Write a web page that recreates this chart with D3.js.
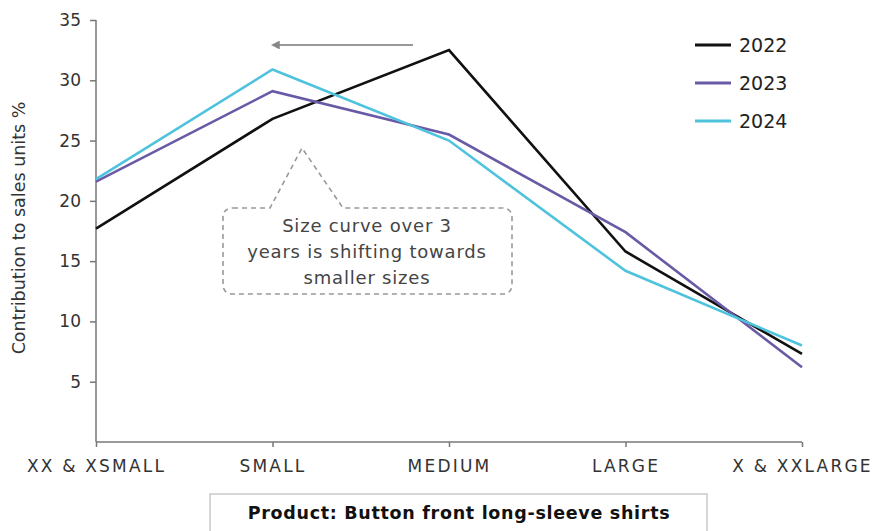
<!DOCTYPE html>
<html><head><meta charset="utf-8">
<script src="https://cdn.jsdelivr.net/npm/d3@7"></script>
<style>body{margin:0;background:#fff;font-family:"DejaVu Sans",sans-serif;}</style>
</head><body>
<svg id="c" width="874" height="531"></svg>
<script>
const categories = ["XX & XSMALL","SMALL","MEDIUM","LARGE","X & XXLARGE"];
const years = ["2022","2023","2024"];
const v2022 = [17.7, 26.8, 32.5, 15.8, 7.3];
const v2023 = [21.6, 29.1, 25.5, 17.4, 6.2];
const v2024 = [21.8, 30.9, 25.0, 14.2, 8.0];
const yTicks = [5,10,15,20,25,30,35];
const colors = ["#111111","#6a5aa6","#4fc3dd"];
const series = [v2022, v2023, v2024];
const FONT = "'DejaVu Sans',sans-serif";

const svg = d3.select("#c").style("font-family",FONT);
const x = d3.scalePoint().domain(categories).range([96, 802]);
const y = d3.scaleLinear().domain([0,35]).range([442, 20]);

// y axis
const ya = svg.append("g").attr("transform","translate(96,0)")
  .call(d3.axisLeft(y).tickValues(yTicks).tickSize(6).tickPadding(9));
ya.select(".domain").attr("d","M0,20V442");
ya.selectAll(".tick text").style("font-size","17px");
// x axis
const xa = svg.append("g").attr("transform","translate(0,442)")
  .call(d3.axisBottom(x).tickSize(5).tickPadding(13));
xa.select(".domain").attr("d","M96,0H802");
xa.selectAll(".tick text").style("font-size","17px").style("letter-spacing","2.2px");
svg.selectAll(".tick text").attr("fill","#333").style("font-family",FONT);
svg.selectAll(".domain,.tick line").attr("stroke","#777").attr("stroke-width",1.5);

// y label
svg.append("text").attr("transform","translate(25,228) rotate(-90)")
  .attr("text-anchor","middle").attr("fill","#333").style("font-size","17.5px")
  .text("Contribution to sales units %");

// lines
const line = d3.line().x((d,i)=>x(categories[i])).y(d=>y(d));
series.forEach((s,k)=>{
  svg.append("path").datum(s).attr("d",line).attr("fill","none")
    .attr("stroke",colors[k]).attr("stroke-width",2.6).attr("stroke-linejoin","miter");
});

// legend
years.forEach((yr,k)=>{
  const ly = 45 + k*38;
  svg.append("line").attr("x1",695).attr("x2",731).attr("y1",ly).attr("y2",ly)
    .attr("stroke",colors[k]).attr("stroke-width",3);
  svg.append("text").attr("x",739).attr("y",ly+7).attr("fill","#222")
    .style("font-size","19px").text(yr);
});

// arrow
svg.append("defs").append("marker").attr("id","ah").attr("viewBox","0 0 10 10")
  .attr("refX",2).attr("refY",5).attr("markerWidth",4).attr("markerHeight",4).attr("orient","auto")
  .append("path").attr("d","M0,0L10,5L0,10z").attr("fill","#888");
svg.append("line").attr("x1",413).attr("x2",278).attr("y1",45).attr("y2",45)
  .attr("stroke","#999").attr("stroke-width",2.2).attr("marker-end","url(#ah)");

// callout
const r = 10, L=223, R=512, T=208, B=294;
const p = `M${L+r},${T} L270,${T} L302,148 L343,${T} L${R-r},${T} Q${R},${T} ${R},${T+r} L${R},${B-r} Q${R},${B} ${R-r},${B} L${L+r},${B} Q${L},${B} ${L},${B-r} L${L},${T+r} Q${L},${T} ${L+r},${T} Z`;
svg.append("path").attr("d",p).attr("fill","#fff").attr("stroke","#999")
  .attr("stroke-width",1.6).attr("stroke-dasharray","5,4");
["Size curve over 3","years is shifting towards","smaller sizes"].forEach((t,i)=>{
  svg.append("text").attr("x",367).attr("y",232+i*26).attr("text-anchor","middle")
    .attr("fill","#444").style("font-size","18px").style("letter-spacing","0.8px").text(t);
});

// product box
svg.append("rect").attr("x",210).attr("y",494).attr("width",497).attr("height",50)
  .attr("fill","#fff").attr("stroke","#bbb").attr("stroke-width",1.2);
svg.append("text").attr("x",459).attr("y",519).attr("text-anchor","middle")
  .attr("fill","#111").style("font-size","17.5px").style("font-weight","bold")
  .style("letter-spacing","0.7px")
  .text("Product: Button front long-sleeve shirts");
</script>
</body></html>
